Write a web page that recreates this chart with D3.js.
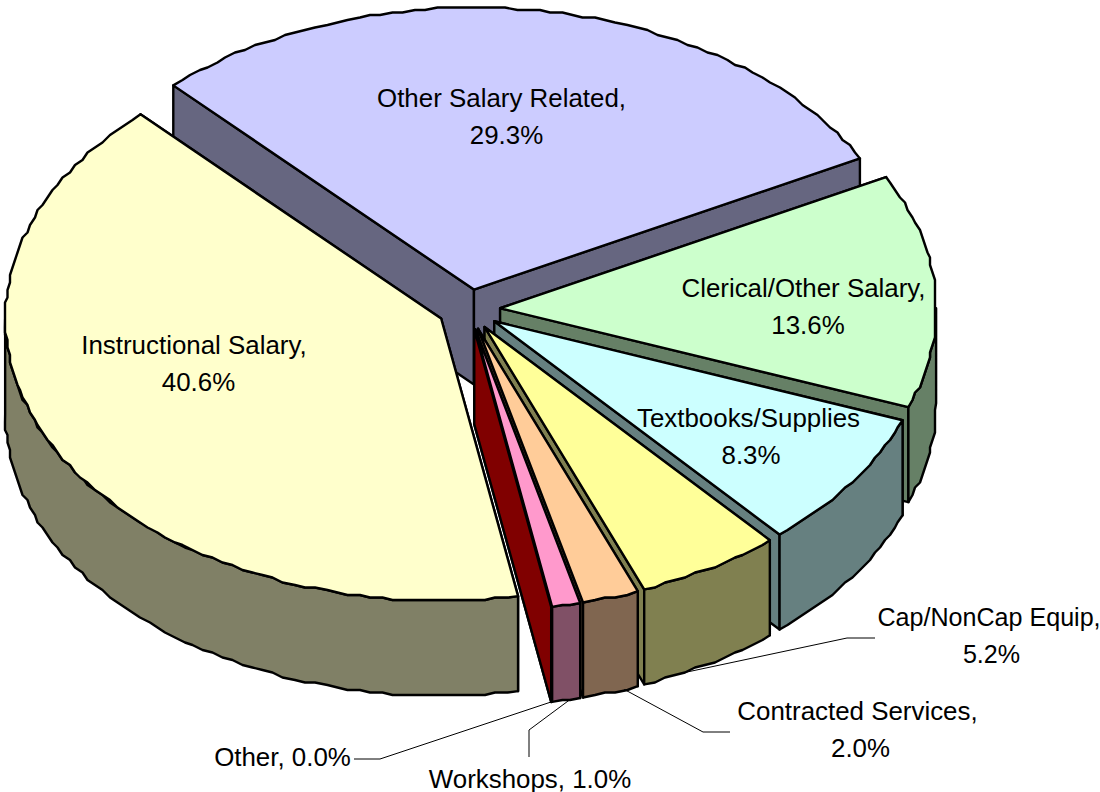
<!DOCTYPE html>
<html><head><meta charset="utf-8">
<script src="https://cdn.jsdelivr.net/npm/d3@7/dist/d3.min.js"></script>
<style>html,body{margin:0;padding:0;background:#fff}svg{display:block}text{font-family:"Liberation Sans",Arial,sans-serif;font-size:25.9px;fill:#000}</style>
</head><body><div id="chart"></div>
<script>
const categories = ["Other Salary Related","Clerical/Other Salary","Textbooks/Supplies","Cap/NonCap Equip","Contracted Services","Workshops","Other","Instructional Salary"];
const values = [29.3,13.6,8.3,5.2,2.0,1.0,0.0,40.6];
const topColors = ["#CCCCFF","#CCFFCC","#CCFFFF","#FFFF99","#FFCC99","#FF99CC","#800000","#FFFFCC"];
const sideColors = ["#666680","#668066","#668080","#808050","#806650","#805066","#800000","#808066"];
const labelText = [["Other Salary Related,","29.3%"],["Clerical/Other Salary,","13.6%"],["Textbooks/Supplies","8.3%"],["Cap/NonCap Equip,","5.2%"],["Contracted Services,","2.0%"],["Workshops, 1.0%"],["Other, 0.0%"],["Instructional Salary,","40.6%"]];
const labelX = [[501.5,506.5],[803.5,808],[748.5,751],[989,991.5],[857.5,860.5],[530],[282.5],[194,198.5]];
const labelY = [107,297,427,626,720,788,766,354];
const labelSize = [25.9,25.9,25.9,25.1,25.9,25.9,25.9,25.9];
const leaderFrac = [null,null,null,0.7,0.25,0.36,0.5,null];
const leaderBends = [null,null,null,[[847,638],[875,638]],[[703,732],[730,732]],[[529,730],[529,757]],[[380,759],[354,759]],null];

const W=1100,H=792, cx=469, cy=309.5, rx=436, ry=282, depth=95, explode=0.0715, grid=2.5;
const rad=Math.PI/180;
const svg=d3.select("#chart").append("svg").attr("width",W).attr("height",H);
const pie=d3.pie().sort(null).startAngle(-43.6*rad).endAngle((360-43.6)*rad);
const arcs=pie(values);
const scaleX=d3.scaleLinear().domain([-1,1]).range([cx-rx,cx+rx]);
const scaleY=d3.scaleLinear().domain([-1,1]).range([cy-ry,cy+ry]);
// the tilted view shifts apparent rim angles slightly
const warp=d3.scaleLinear().domain([-44,62,111,141,160,170,316].map(v=>v*rad)).range([0,.4,-.3,-1.6,-.9,-.4,0].map(v=>v*rad));
function P(a,mid,r,z){
  const b=a+warp(a);
  const u=explode*Math.sin(mid)+r*Math.sin(b), v=-explode*Math.cos(mid)-r*Math.cos(b);
  return [scaleX(u),scaleY(v)+z];
}
const snap=p=>[Math.round(p[0]/grid)*grid,Math.round(p[1]/grid)*grid];
const line=d3.line();
arcs.forEach((d,i)=>{
  const mid=(d.startAngle+d.endAngle)/2, a0=d.startAngle, a1=d.endAngle;
  const g=svg.append("g").attr("stroke","#000").attr("stroke-width",2.4).attr("stroke-linejoin","round");
  const quad=a=>[P(a,mid,0,0),P(a,mid,1,0),P(a,mid,1,depth),P(a,mid,0,depth)];
  g.append("path").attr("d",line(quad(a0))+"Z").attr("fill",sideColors[i]);
  g.append("path").attr("d",line(quad(a1))+"Z").attr("fill",sideColors[i]);
  const samples=(s,e)=>{const n=Math.max(1,Math.ceil((e-s)/(1.5*rad)));return d3.range(n+1).map(k=>s+(e-s)*k/n);};
  const wob=(as,z)=>as.map((a,k)=>(k===0||k===as.length-1)?P(a,mid,1,z):snap(P(a,mid,1,z)));
  const s=Math.max(a0,90*rad), e=Math.min(a1,270*rad);
  if(e>s){
    const as=samples(s,e);
    const band=wob(as,0).concat(wob(as,depth).reverse());
    g.append("path").attr("d",line(band)+"Z").attr("fill",sideColors[i]);
  }
  if(a1>a0){
    const topPts=[P(a0,mid,0,0)].concat(wob(samples(a0,a1),0));
    g.append("path").attr("d",line(topPts)+"Z").attr("fill",topColors[i]);
  }
});
arcs.forEach((d,i)=>{
  if(leaderFrac[i]===null) return;
  const mid=(d.startAngle+d.endAngle)/2;
  const a=d.startAngle+(d.endAngle-d.startAngle)*leaderFrac[i];
  svg.append("path").attr("d",line([P(a,mid,1,depth)].concat(leaderBends[i]))).attr("fill","none").attr("stroke","#000").attr("stroke-width",1);
});
labelText.forEach((lines,i)=>{
  const t=svg.append("text").attr("text-anchor","middle").style("font-size",labelSize[i]+"px");
  lines.forEach((l,k)=>t.append("tspan").attr("x",labelX[i][k]).attr("y",labelY[i]+k*36.5).text(l));
});
</script></body></html>
